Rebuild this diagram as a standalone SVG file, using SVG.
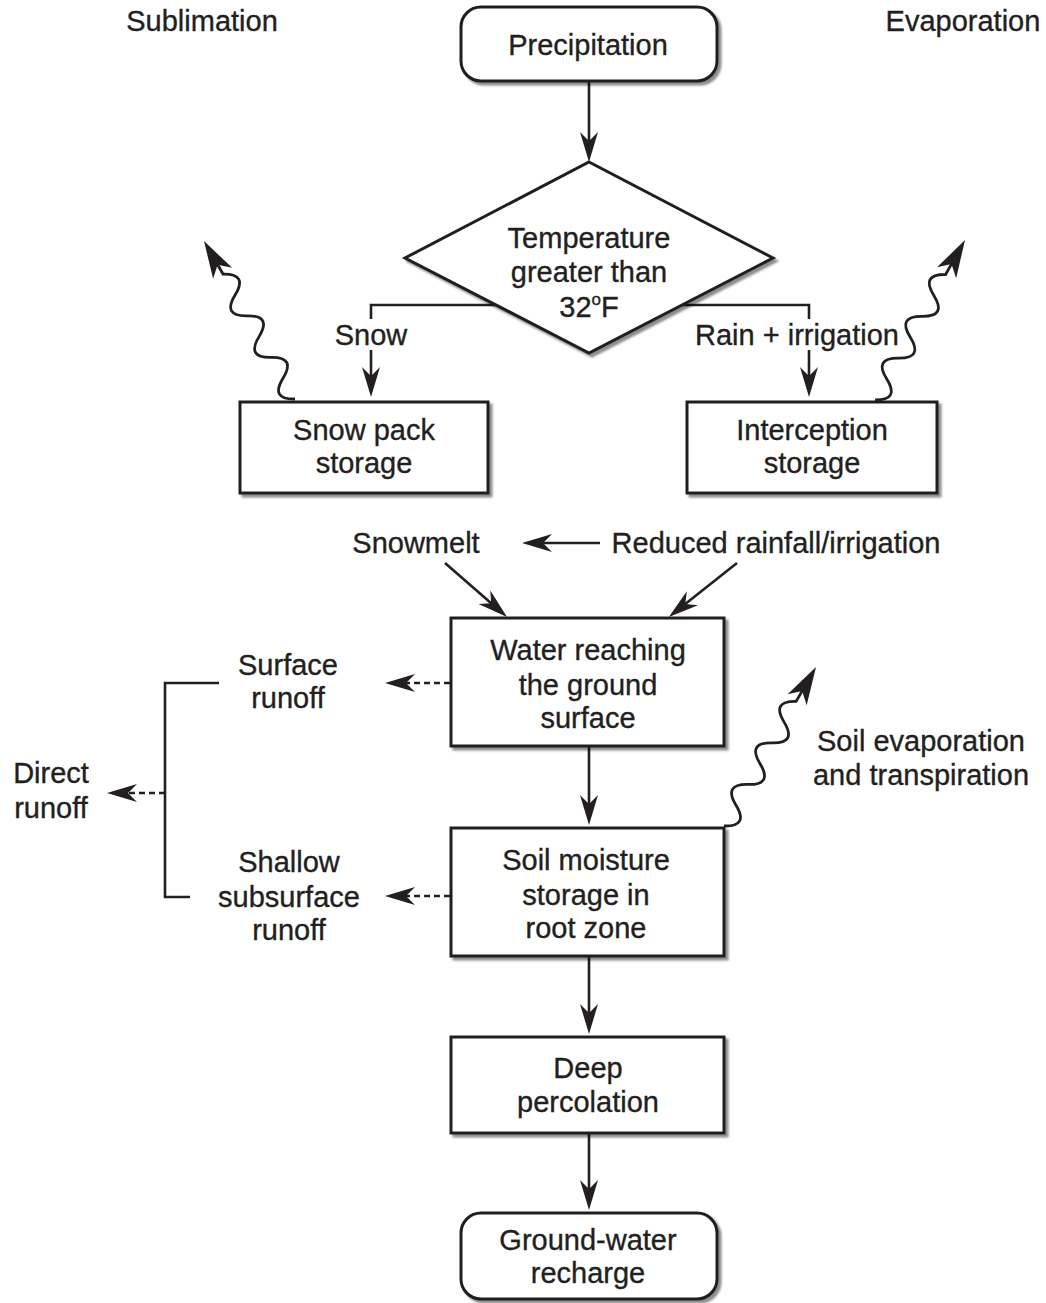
<svg xmlns="http://www.w3.org/2000/svg" width="1046" height="1303" viewBox="0 0 1046 1303">
<style>
text{font-family:"Liberation Sans",Arial,sans-serif;font-size:29px;fill:#231f20;stroke:#231f20;stroke-width:0.35;text-anchor:middle}
.box{fill:#fff;stroke:#231f20;stroke-width:3;filter:url(#sh)}
.ln{fill:none;stroke:#231f20;stroke-width:2.6}
.dash{fill:none;stroke:#231f20;stroke-width:2.4;stroke-dasharray:6 4}
.wave{fill:none;stroke:#231f20;stroke-width:2.8}
.head{fill:#231f20;stroke:none}
</style>
<defs>
<filter id="sh" x="-10%" y="-10%" width="125%" height="130%">
<feDropShadow dx="3" dy="3" stdDeviation="1.3" flood-color="#000" flood-opacity="0.45"/>
</filter>
<marker id="ah" markerUnits="userSpaceOnUse" viewBox="-22 -11 34 22" markerWidth="34" markerHeight="22" refX="0" refY="0" orient="auto">
<path d="M10,0 L-20,-9 L-11,0 L-20,9 Z" fill="#231f20"/>
</marker>
</defs>
<rect width="1046" height="1303" fill="#fff"/>

<g id="connectors">
<line class="ln" x1="589" y1="81" x2="589" y2="152" marker-end="url(#ah)"/>
<polyline class="ln" points="496,305 371,305 371,319"/>
<line class="ln" x1="371" y1="350" x2="371" y2="387" marker-end="url(#ah)"/>
<polyline class="ln" points="682,305 809,305 809,319"/>
<line class="ln" x1="809" y1="350" x2="809" y2="387" marker-end="url(#ah)"/>
<line class="ln" x1="600" y1="543" x2="532" y2="543" marker-end="url(#ah)"/>
<line class="ln" x1="445" y1="563" x2="499.5" y2="610.4" marker-end="url(#ah)"/>
<line class="ln" x1="737" y1="563" x2="676.7" y2="610.7" marker-end="url(#ah)"/>
<line class="ln" x1="589" y1="746" x2="589" y2="815" marker-end="url(#ah)"/>
<line class="ln" x1="589" y1="956" x2="589" y2="1024" marker-end="url(#ah)"/>
<line class="ln" x1="589" y1="1133" x2="589" y2="1200" marker-end="url(#ah)"/>
<line class="dash" x1="450" y1="683" x2="395" y2="683" marker-end="url(#ah)"/>
<line class="dash" x1="450" y1="896" x2="395" y2="896" marker-end="url(#ah)"/>
<polyline class="ln" points="219,683 165,683 165,897 190,897"/>
<line class="dash" x1="165" y1="793" x2="117" y2="793" marker-end="url(#ah)"/>
<g transform="translate(295,399) rotate(-119.94)">
<path class="wave" d="M0,0 q12,-22 24,0 t24,0 t24,0 t24,0 t24,0 t24,0 L156,0"/>
<polygon class="head" points="182.3,0 145,-11 155,0 145,11"/>
</g>
<g transform="translate(875,400) rotate(-60.64)">
<path class="wave" d="M0,0 q12,22 24,0 t24,0 t24,0 t24,0 t24,0 t24,0 L157,0"/>
<polygon class="head" points="183.6,0 146,-11 156,0 146,11"/>
</g>
<g transform="translate(724,826) rotate(-59.94)">
<path class="wave" d="M0,0 q12,22 24,0 t24,0 t24,0 t24,0 t24,0 t24,0 L157,0"/>
<polygon class="head" points="183.7,0 146,-11 156,0 146,11"/>
</g>
</g>

<g id="precipitation">
<rect class="box" x="461" y="7" width="256" height="74" rx="20"/>
<text x="588" y="55">Precipitation</text>
</g>
<g id="temperature">
<polygon class="box" points="589,162 773,258 589,353 405,258"/>
<text x="589" y="248">Temperature</text>
<text x="589" y="282">greater than</text>
<text x="589" y="317">32<tspan font-size="17" dy="-12">o</tspan><tspan dy="12">F</tspan></text>
</g>
<g id="snow-label"><text x="371" y="345">Snow</text></g>
<g id="rain-label"><text x="797" y="345">Rain + irrigation</text></g>
<g id="sublimation"><text x="202" y="31">Sublimation</text></g>
<g id="evaporation"><text x="963" y="31">Evaporation</text></g>
<g id="snowpack">
<rect class="box" x="240" y="402" width="248" height="91"/>
<text x="364" y="440">Snow pack</text>
<text x="364" y="473">storage</text>
</g>
<g id="interception">
<rect class="box" x="687" y="402" width="250" height="91"/>
<text x="812" y="440">Interception</text>
<text x="812" y="473">storage</text>
</g>
<g id="snowmelt"><text x="416" y="553">Snowmelt</text></g>
<g id="reduced"><text x="776" y="553">Reduced rainfall/irrigation</text></g>
<g id="water">
<rect class="box" x="451" y="618" width="273" height="128"/>
<text x="588" y="660">Water reaching</text>
<text x="588" y="695">the ground</text>
<text x="588" y="728">surface</text>
</g>
<g id="surface-runoff">
<text x="288" y="675">Surface</text>
<text x="288" y="708">runoff</text>
</g>
<g id="direct-runoff">
<text x="51" y="783">Direct</text>
<text x="51" y="818">runoff</text>
</g>
<g id="shallow-runoff">
<text x="289" y="872">Shallow</text>
<text x="289" y="907">subsurface</text>
<text x="289" y="940">runoff</text>
</g>
<g id="soil-et">
<text x="921" y="751">Soil evaporation</text>
<text x="921" y="785">and transpiration</text>
</g>
<g id="soil">
<rect class="box" x="451" y="828" width="273" height="128"/>
<text x="586" y="870">Soil moisture</text>
<text x="586" y="905">storage in</text>
<text x="586" y="938">root zone</text>
</g>
<g id="deep">
<rect class="box" x="451" y="1037" width="273" height="96"/>
<text x="588" y="1078">Deep</text>
<text x="588" y="1112">percolation</text>
</g>
<g id="recharge">
<rect class="box" x="461" y="1213" width="256" height="86" rx="20"/>
<text x="588" y="1250">Ground-water</text>
<text x="588" y="1283">recharge</text>
</g>
</svg>
